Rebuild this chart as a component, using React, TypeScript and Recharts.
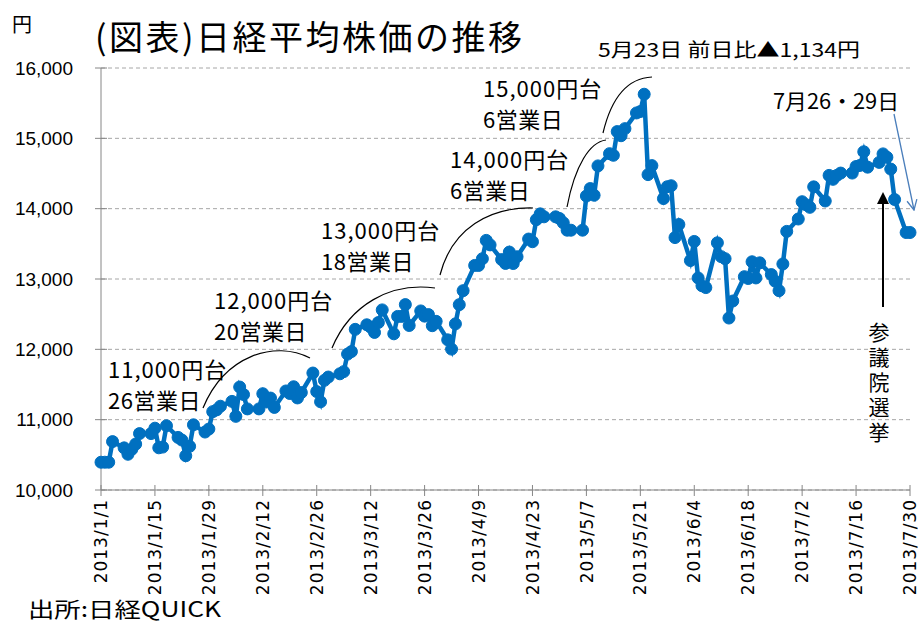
import { LineChart, Line, XAxis, YAxis, CartesianGrid } from 'recharts';

// trading days per month (holidays carry the previous close)
const janDays = [1, 2, 3, 4, 7, 8, 9, 10, 11, 14, 15, 16, 17, 18, 21, 22, 23, 24, 25, 28, 29, 30, 31];
const janClose = [10395, 10395, 10395, 10688, 10599, 10508, 10579, 10653, 10802, 10802, 10879, 10600, 10610, 10913, 10748, 10710, 10487, 10621, 10927, 10824, 10867, 11114, 11139];
const febDays = [1, 4, 5, 6, 7, 8, 11, 12, 13, 14, 15, 18, 19, 20, 21, 22, 25, 26, 27, 28];
const febClose = [11191, 11260, 11047, 11464, 11357, 11153, 11153, 11369, 11251, 11307, 11174, 11408, 11372, 11468, 11309, 11386, 11663, 11399, 11254, 11559];
const marDays = [1, 4, 5, 6, 7, 8, 11, 12, 13, 14, 15, 18, 19, 20, 21, 22, 25, 26, 27, 28, 29];
const marClose = [11606, 11652, 11683, 11932, 11968, 12284, 12349, 12315, 12240, 12381, 12561, 12221, 12468, 12468, 12636, 12339, 12546, 12472, 12494, 12336, 12398];
const aprDays = [1, 2, 3, 4, 5, 8, 9, 10, 11, 12, 15, 16, 17, 18, 19, 22, 23, 24, 25, 26, 29, 30];
const aprClose = [12135, 12003, 12362, 12635, 12834, 13193, 13192, 13288, 13549, 13485, 13276, 13221, 13383, 13220, 13316, 13568, 13530, 13843, 13926, 13884, 13884, 13861];
const mayDays = [1, 2, 3, 6, 7, 8, 9, 10, 13, 14, 15, 16, 17, 20, 21, 22, 23, 24, 27, 28, 29, 30, 31];
const mayClose = [13799, 13694, 13694, 13694, 14180, 14286, 14191, 14608, 14782, 14759, 15096, 15037, 15138, 15361, 15381, 15627, 14484, 14612, 14143, 14312, 14326, 13589, 13775];
const junDays = [3, 4, 5, 6, 7, 10, 11, 12, 13, 14, 17, 18, 19, 20, 21, 24, 25, 26, 27, 28];
const junClose = [13262, 13534, 13015, 12904, 12878, 13514, 13318, 13289, 12445, 12687, 13033, 13007, 13245, 13015, 13230, 13063, 12969, 12834, 13214, 13677];
const julDays = [1, 2, 3, 4, 5, 8, 9, 10, 11, 12, 15, 16, 17, 18, 19, 22, 23, 24, 25, 26, 29, 30];
const julClose = [13853, 14099, 14055, 14019, 14310, 14109, 14473, 14417, 14473, 14506, 14506, 14599, 14615, 14809, 14590, 14658, 14779, 14731, 14563, 14130, 13661, 13661];

const xTickLabels = [
  '2013/1/1', '2013/1/15', '2013/1/29', '2013/2/12', '2013/2/26', '2013/3/12',
  '2013/3/26', '2013/4/9', '2013/4/23', '2013/5/7', '2013/5/21', '2013/6/4',
  '2013/6/18', '2013/7/2', '2013/7/16', '2013/7/30',
];
const yTicks = [10000, 11000, 12000, 13000, 14000, 15000, 16000];

const months = [
  [janDays, janClose],
  [febDays, febClose],
  [marDays, marClose],
  [aprDays, aprClose],
  [mayDays, mayClose],
  [junDays, junClose],
  [julDays, julClose],
];

const BASE = Date.UTC(2013, 0, 1);
const dayIndex = (y: number, m: number, d: number) => (Date.UTC(y, m - 1, d) - BASE) / 86400000;
const labelIndex = (s: string) => {
  const [y, m, d] = s.split('/').map(Number);
  return dayIndex(y, m, d);
};

const data: { t: number; v: number }[] = [];
months.forEach(([days, closes], mi) => {
  days.forEach((d, i) => data.push({ t: dayIndex(2013, mi + 1, d), v: closes[i] }));
});
const xTicks = xTickLabels.map(labelIndex);

const W = 918;
const H = 622;
const AXIS_X = 101;
const AXIS_Y = 490;
const BLUE = '#0070C0';
const AXIS = '#868686';
const JP = "'Noto Sans CJK JP', 'Noto Sans', sans-serif";
const NUM = "'Liberation Sans', Arial, sans-serif";

const XTick = (props: any) => {
  const { x, payload } = props;
  const label = xTickLabels[xTicks.indexOf(payload.value)] ?? '';
  return (
    <g>
      <line x1={x} x2={x} y1={AXIS_Y - 5} y2={AXIS_Y + 6} stroke={AXIS} />
      <text
        x={x}
        y={AXIS_Y + 9}
        transform={`rotate(-90, ${x}, ${AXIS_Y + 9})`}
        textAnchor="end"
        dy="0.36em"
        fontSize={17}
        letterSpacing={1}
        fontFamily="'DejaVu Sans', sans-serif"
        fill="#000"
      >
        {label}
      </text>
    </g>
  );
};

const YTick = (props: any) => {
  const { y, payload } = props;
  return (
    <g>
      <line x1={AXIS_X - 6} x2={AXIS_X + 6} y1={y} y2={y} stroke={AXIS} />
      <text x={73} y={y} dy="0.35em" textAnchor="end" fontSize={19} fontFamily={NUM} fill="#000">
        {payload.value.toLocaleString('en-US')}
      </text>
    </g>
  );
};

const notes = [
  { x: 108, y: 378, a: '11,000円台', b: '26営業日' },
  { x: 214, y: 309, a: '12,000円台', b: '20営業日' },
  { x: 321, y: 239, a: '13,000円台', b: '18営業日' },
  { x: 450, y: 168, a: '14,000円台', b: '6営業日' },
  { x: 483, y: 97, a: '15,000円台', b: '6営業日' },
];

const arcs = [
  'M203,408 C225,355 275,340 310,358',
  'M332,348 C350,305 390,282 435,288',
  'M440,275 C452,228 490,207 533,208',
  'M567,207 C575,165 590,142 606,140',
  'M603,133 C612,95 630,78 652,77',
];

export default function App() {
  return (
    <div style={{ position: 'absolute', left: 0, top: 0, width: W, height: H, background: '#fff' }}>
      <LineChart width={W} height={H} data={data} margin={{ top: 68, right: 8, bottom: 0, left: 0 }}>
        <CartesianGrid vertical={false} stroke="#a6a6a6" strokeDasharray="4 3" />
        <XAxis
          dataKey="t"
          type="number"
          domain={[0, 210]}
          ticks={xTicks}
          interval={0}
          height={132}
          axisLine={{ stroke: AXIS }}
          tickLine={false}
          tick={<XTick />}
        />
        <YAxis
          type="number"
          domain={[10000, 16000]}
          ticks={yTicks}
          interval={0}
          width={101}
          axisLine={{ stroke: AXIS }}
          tickLine={false}
          tick={<YTick />}
        />
        <Line
          dataKey="v"
          stroke={BLUE}
          strokeWidth={4.5}
          dot={{ r: 6, fill: BLUE, stroke: BLUE, strokeWidth: 1 }}
          isAnimationActive={false}
        />
      </LineChart>

      <svg width={W} height={H} style={{ position: 'absolute', left: 0, top: 0, pointerEvents: 'none' }}>
        <defs>
          <marker id="blk" markerWidth="12" markerHeight="12" refX="10" refY="6" orient="auto" markerUnits="userSpaceOnUse">
            <path d="M0,0 L12,6 L0,12 z" fill="#000" />
          </marker>
          <marker id="bluehead" markerWidth="12" markerHeight="12" refX="11" refY="6" orient="auto" markerUnits="userSpaceOnUse">
            <path d="M1,1 L11,6 L1,11" fill="none" stroke="#4a7ebb" strokeWidth="1.3" />
          </marker>
        </defs>

        <text x={12} y={32} fontSize={20} fontFamily={JP} fill="#000">円</text>
        <text x={95} y={50} fontSize={34} fontFamily={JP} fill="#000" letterSpacing={2.5}>
          (図表)日経平均株価の推移
        </text>
        <text x={598} y={57} fontSize={19} fontFamily={JP} fill="#000" textLength={262} lengthAdjust="spacingAndGlyphs">
          5月23日  前日比▲1,134円
        </text>

        {notes.map((n) => (
          <g key={n.a}>
            <text x={n.x} y={n.y} fontSize={22} fontFamily={JP} fill="#000" letterSpacing={1}>{n.a}</text>
            <text x={n.x} y={n.y + 31} fontSize={22} fontFamily={JP} fill="#000" letterSpacing={0.5}>{n.b}</text>
          </g>
        ))}
        {arcs.map((d) => (
          <path key={d} d={d} fill="none" stroke="#000" strokeWidth={1.2} />
        ))}

        <text x={773} y={109} fontSize={21} fontFamily={JP} fill="#000" textLength={126} lengthAdjust="spacingAndGlyphs">
          7月26・29日
        </text>
        <line x1={894} y1={114} x2={914} y2={210} stroke="#4a7ebb" strokeWidth={1.3} markerEnd="url(#bluehead)" />

        <line x1={883} y1={307} x2={883} y2={194} stroke="#000" strokeWidth={2} markerEnd="url(#blk)" />
        <text
          x={879}
          y={322}
          fontSize={21}
          fontFamily={JP}
          fill="#000"
          letterSpacing={4}
          style={{ writingMode: 'vertical-rl' }}
        >
          参議院選挙
        </text>

        <text x={28} y={617} fontSize={21} fontFamily={JP} fill="#000" textLength={193} lengthAdjust="spacingAndGlyphs">
          出所:日経QUICK
        </text>
      </svg>
    </div>
  );
}
